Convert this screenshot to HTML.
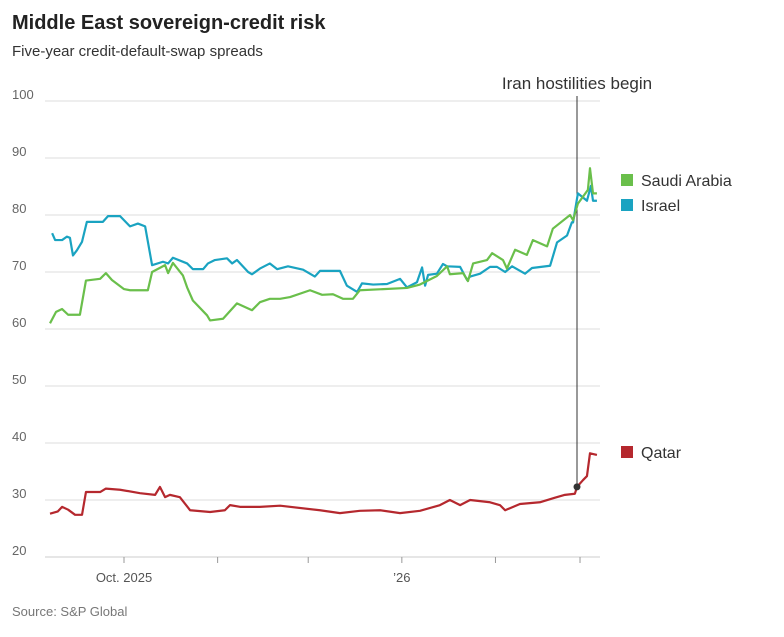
<!DOCTYPE html>
<html><head><meta charset="utf-8"><style>
body{margin:0;background:#fff;font-family:"Liberation Sans",sans-serif;}
#wrap{position:relative;width:784px;height:637px;overflow:hidden;}
</style></head><body>
<div id="wrap">
<svg id="chart" width="784" height="637">
<text x="12" y="29" font-size="20" font-weight="bold" fill="#222">Middle East sovereign-credit risk</text>
<text x="12" y="56" font-size="15" fill="#333">Five-year credit-default-swap spreads</text>
<text x="12" y="616" font-size="13" fill="#777">Source: S&amp;P Global</text>
<g id="grid"></g><g id="series"></g><g id="legend"></g>
</svg>
</div>
<script>
const yTicks=[20,30,40,50,60,70,80,90,100];
const monthDays=[0,31,61,92,123,151];
const monthLabels=["Oct. 2025","","","’26","",""];
const eventDay=150;
const eventLabel="Iran hostilities begin";
const saudiDays=[-24.5,-22.5,-20.5,-18.5,-16.6,-14.6,-12.6,-7.9,-6,-4,0,2,7.9,9.3,13.6,14.6,16.2,19.5,20.9,22.8,27.5,28.5,32.8,37.4,42.4,45,48.3,51.7,55,61.6,65.6,69.2,72.5,75.8,78.1,93.7,98,103.6,107,107.9,112.3,113.9,115.6,120.2,121.9,125.5,126.8,129.5,133.4,135.4,140.1,142,147.7,148.7,150.3,153.6,154.3,155.3,156.6];
const saudiVals=[61,63,63.5,62.5,62.5,62.5,68.5,68.8,69.8,68.6,67,66.8,66.8,70,71.2,69.8,71.6,69.4,67.3,65,62.4,61.5,61.8,64.5,63.3,64.7,65.3,65.3,65.6,66.8,66,66.1,65.3,65.3,66.8,67.2,67.8,69.3,71,69.6,69.8,68.4,71.5,72.1,73.3,72.1,70.6,73.9,73,75.6,74.5,77.6,80,79.1,82,84.4,88.2,83.8,83.8];
const israelDays=[-23.8,-22.8,-20.5,-18.9,-17.9,-16.9,-15.6,-13.9,-12.3,-7,-5.3,-1.3,2,4.6,7,9.3,12.9,14.6,16.2,20.9,22.8,26.2,27.8,30.1,34.1,35.8,37.4,41.1,42.4,45,48.3,50.7,54.3,59.3,63.2,64.9,71.5,73.8,77.2,78.8,82.5,87.1,91.4,93.7,97,98.7,99.7,100.7,103.6,105.6,107,111.3,113.6,114.6,117.9,121.2,123.5,126.2,128.5,132.8,135.1,141.1,143.4,146.7,148.3,148.7,150.3,153.3,154.6,155.3,156.6];
const israelVals=[76.8,75.6,75.6,76.2,76,72.9,73.8,75.3,78.8,78.8,79.8,79.8,78,78.5,78,71.2,71.8,71.5,72.5,71.5,70.5,70.5,71.5,72.1,72.4,71.5,72.1,70,69.6,70.6,71.5,70.5,71,70.4,69.2,70.2,70.2,67.6,66.5,68,67.8,67.9,68.8,67.3,68.2,70.8,67.6,69.5,69.7,71.4,71,70.9,68.6,69.2,69.7,70.9,70.9,70,71,69.7,70.7,71.1,75.2,76.4,78.7,78.7,83.8,82.5,85.1,82.5,82.5];
const qatarDays=[-24.5,-21.9,-20.5,-18.5,-16.2,-13.9,-12.6,-7.9,-6,-1.3,5.3,10.3,11.9,13.6,15.2,18.5,21.9,28.5,33.4,35.1,38.4,45,51.7,64.9,71.5,78.1,84.8,91.4,98,104.6,107.9,111.3,114.6,121.2,124.5,126.2,131.1,137.7,142.7,146,149.3,150,152,153.3,154.3,156.6];
const qatarVals=[27.6,28,28.8,28.3,27.4,27.4,31.4,31.4,32,31.8,31.2,30.9,32.3,30.5,30.9,30.5,28.2,27.9,28.2,29.1,28.8,28.8,29,28.2,27.7,28.1,28.2,27.7,28.1,29.1,30,29.1,30,29.6,29.1,28.2,29.3,29.6,30.4,30.9,31.1,32.3,33.5,34.2,38.2,37.9];

const NS="http://www.w3.org/2000/svg";
const x=d=>124+d*3.02;
const y=v=>557-(v-20)*5.7;
function mk(tag,attrs,parent){const e=document.createElementNS(NS,tag);for(const k in attrs)e.setAttribute(k,attrs[k]);parent.appendChild(e);return e;}
const grid=document.getElementById('grid'),series=document.getElementById('series'),legend=document.getElementById('legend');
yTicks.forEach(t=>{
  const l=mk('line',{x1:45,x2:600,y1:y(t),y2:y(t),stroke:t===20?'#ccc':'#e8e8e8','stroke-width':t===20?1:1.5},grid);
  
  
  const tx=mk('text',{x:12,y:y(t)-2,'font-size':13,fill:'#666'},grid);
  tx.textContent=t;
  
  
});
monthDays.forEach((d,i)=>{
  const l=mk('line',{x1:x(d),x2:x(d),y1:557,y2:563,stroke:'#999','stroke-width':1},grid);
  
  
  if(monthLabels[i]){const tx=mk('text',{x:x(d),y:582,'font-size':13,fill:'#555','text-anchor':'middle'},grid);
  tx.textContent=monthLabels[i];
  
  }
});
const ev=mk('line',{x1:x(eventDay),x2:x(eventDay),y1:96,y2:y(32.3),stroke:'#333','stroke-width':1},series);


const evt=mk('text',{x:x(eventDay),y:89,'font-size':17,fill:'#333','text-anchor':'middle'},series);
evt.textContent=eventLabel;


function draw(days,vals,color,name,label,ly){
  const p=mk('polyline',{points:days.map((d,i)=>x(d)+','+y(vals[i])).join(' '),fill:'none',stroke:color,'stroke-width':2.2,'stroke-linejoin':'round'},series);
  
  
  const r=mk('rect',{x:621,y:ly-6,width:12,height:12,fill:color},legend);
  
  
  const t=mk('text',{x:641,y:ly+6,'font-size':16,fill:'#333'},legend);
  t.textContent=label;
  
  
}
draw(qatarDays,qatarVals,'#b5282e','qatar','Qatar',452);
draw(israelDays,israelVals,'#1aa3c1','israel','Israel',205);
draw(saudiDays,saudiVals,'#6abf4b','saudi-arabia','Saudi Arabia',180);
const dot=mk('circle',{cx:x(eventDay),cy:y(32.3),r:3.5,fill:'#333'},series);


</script>
</body></html>
